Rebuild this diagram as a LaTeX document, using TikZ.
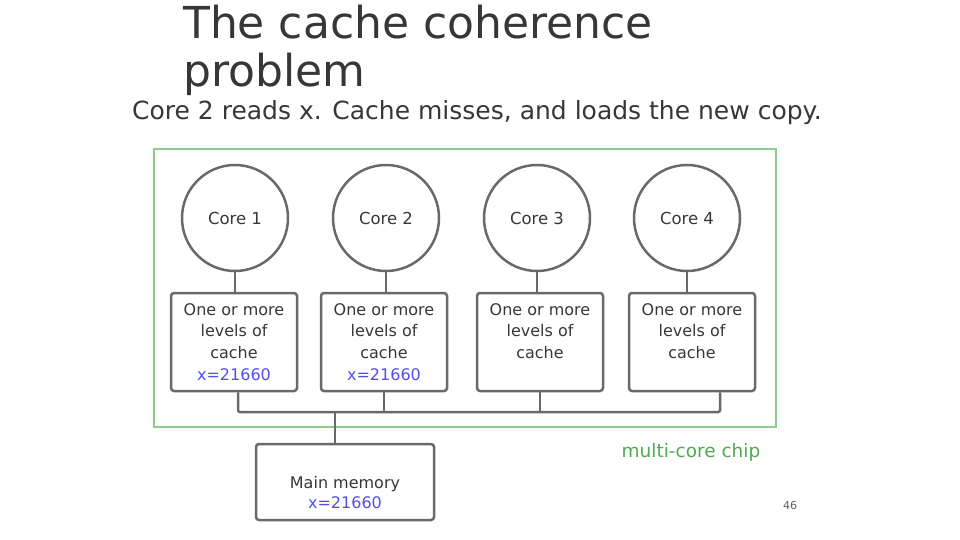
\documentclass[tikz,border=0pt]{standalone}
\usepackage{fontspec}
\setmainfont{DejaVu Sans}
\usepackage{xcolor}
\definecolor{chipgreen}{RGB}{140,205,140}
\definecolor{chiptext}{RGB}{80,170,80}
\definecolor{valblue}{RGB}{80,80,230}
\definecolor{linegray}{RGB}{105,105,105}
\definecolor{txtgray}{RGB}{55,55,55}
\usepackage{tikz}
\usetikzlibrary{positioning}

\begin{document}
\begin{tikzpicture}[x=1pt, y=-1pt]

  \tikzstyle{corenode} = [
    circle, draw=linegray, line width=2.5pt,
    minimum size=106pt, inner sep=0pt,
    font=\fontsize{16.5}{20}\selectfont, text=txtgray
  ]
  \tikzstyle{cachebox} = [
    rectangle, rounded corners=3pt, draw=linegray, line width=2.5pt,
    minimum width=126pt, minimum height=98pt,
    align=center, font=\fontsize{16}{21.7}\selectfont, text=txtgray
  ]
  \tikzstyle{wire} = [line width=2.5pt, draw=linegray]

  \useasboundingbox (0,0) rectangle (960,540);

  % titles
  \node[anchor=north west, inner sep=0pt, align=left, text=txtgray,
        font=\fontsize{44}{48}\selectfont] (title) at (183,5)
    {The cache coherence\\problem};
  \node[anchor=base, inner sep=0pt, text=txtgray,
        font=\fontsize{25}{30}\selectfont] (sub) at (477,120)
    {Core 2 reads x. Cache misses, and loads the new copy.};

  % chip outline
  \node[draw=chipgreen, line width=2.5pt, minimum width=622pt,
        minimum height=278pt] (chip) at (465,288) {};
  \node[text=chiptext, font=\fontsize{18.5}{22}\selectfont] (chiplbl)
    at (691,452) {multi-core chip};

  % cores
  \node[corenode] (c1) at (235,218) {Core 1};
  \node[corenode] (c2) at (386,218) {Core 2};
  \node[corenode] (c3) at (537,218) {Core 3};
  \node[corenode] (c4) at (687,218) {Core 4};

  % caches
  \node[cachebox] (k1) at (234,342)
    {One or more\\levels of\\cache\\\textcolor{valblue}{x=21660}};
  \node[cachebox] (k2) at (384,342)
    {One or more\\levels of\\cache\\\textcolor{valblue}{x=21660}};
  \node[cachebox] (k3) at (540,342)
    {One or more\\levels of\\cache\\\phantom{x=21660}};
  \node[cachebox] (k4) at (692,342)
    {One or more\\levels of\\cache\\\phantom{x=21660}};

  % main memory
  \node[cachebox, minimum width=178pt, minimum height=76pt] (mem)
    at (345,482) {};
  \node[align=center, text=txtgray, font=\fontsize{16}{20}\selectfont]
    (memtxt) at (345,493) {Main memory\\\textcolor{valblue}{x=21660}};

  \node[text=txtgray!80, font=\fontsize{11}{13}\selectfont] (pg)
    at (790,505) {46};

  % core to cache
  \draw[wire] (c1.south) -- (c1.south |- k1.north);
  \draw[wire] (c2.south) -- (c2.south |- k2.north);
  \draw[wire] (c3.south) -- (c3.south |- k3.north);
  \draw[wire] (c4.south) -- (c4.south |- k4.north);

  % bus
  \coordinate (busL) at (238,412);
  \coordinate (busR) at (720,412);
  \coordinate (busM) at (335,412);
  \draw[wire, rounded corners=2pt] (busL |- k1.south) -- (busL) -- (busR)
    -- (busR |- k4.south);
  \draw[wire] (k2.south) -- (k2.south |- busL);
  \draw[wire] (k3.south) -- (k3.south |- busL);
  \draw[wire] (busM) -- (busM |- mem.north);

\end{tikzpicture}
\end{document}
